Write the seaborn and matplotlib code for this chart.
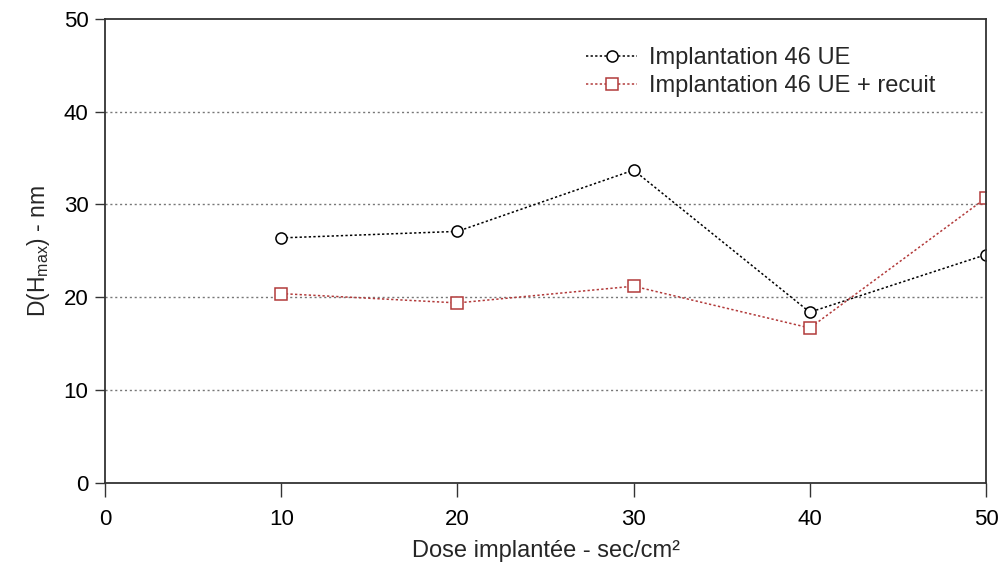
import pandas as pd
import seaborn as sns
import matplotlib.pyplot as plt

# dose (sec/cm2) and D(Hmax) in nm
dose = [10, 20, 30, 40, 50]
d_implant = [26.4, 27.1, 33.7, 18.4, 24.6]
d_recuit = [20.4, 19.4, 21.2, 16.7, 30.7]
labels = ["Implantation 46 UE", "Implantation 46 UE + recuit"]

sns.set_style("white")
plt.rcParams['font.family'] = ['Liberation Sans', 'DejaVu Sans']
plt.rcParams['mathtext.default'] = 'regular'

df = pd.DataFrame({
    "dose": dose * 2,
    "d": d_implant + d_recuit,
    "serie": [labels[0]] * len(dose) + [labels[1]] * len(dose),
})

fig = plt.figure(figsize=(10.01, 5.67), dpi=100)
ax = fig.add_axes([0.105, 0.148, 0.88, 0.819])

colors = {labels[0]: "black", labels[1]: "#b23a3a"}
markers = {labels[0]: "o", labels[1]: "s"}

for name in labels:
    sub = df[df["serie"] == name]
    sns.lineplot(data=sub, x="dose", y="d", ax=ax, color=colors[name],
                 linestyle=(0, (1.5, 1.5)), linewidth=1.1, marker=markers[name],
                 markersize=8, markerfacecolor="white",
                 markeredgecolor=colors[name], markeredgewidth=1.1, label=name)

ax.set_xlim(0, 50)
ax.set_ylim(0, 50)
ax.set_xticks([0, 10, 20, 30, 40, 50])
ax.set_yticks([0, 10, 20, 30, 40, 50])
for y in [10, 20, 30, 40]:
    ax.axhline(y, color="#777777", linestyle=(0, (1.5, 2)), linewidth=1, zorder=0)

for s in ax.spines.values():
    s.set_color("#333333")
    s.set_linewidth(1.3)
ax.tick_params(direction="out", width=1, color="#333333",
               labelsize=16, bottom=True, left=True, labelcolor="black")
ax.tick_params(axis="x", length=10, pad=9)
ax.tick_params(axis="y", length=7, pad=5)

ax.set_xlabel("Dose implantée - sec/cm²", fontsize=17, labelpad=7)
ax.set_ylabel("D(H$_{max}$) - nm", fontsize=16.5, labelpad=8)

ax.legend(loc="upper right", bbox_to_anchor=(0.967, 0.985), frameon=False,
          fontsize=17, handlelength=2.2, handletextpad=0.5, labelspacing=0.25)

fig.savefig("out.png", dpi=100)
